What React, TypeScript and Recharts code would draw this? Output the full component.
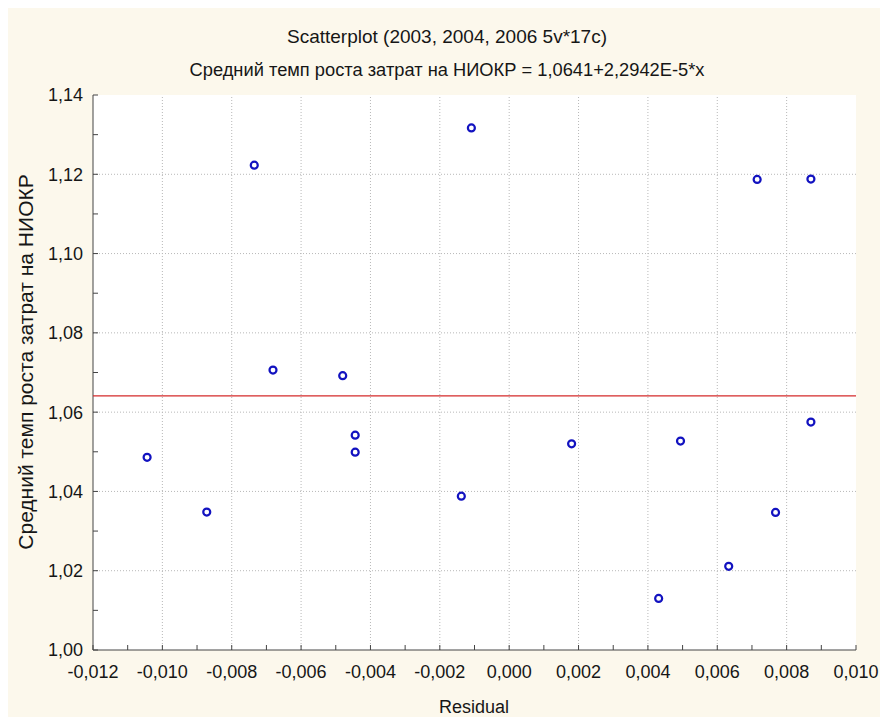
import React from 'react';
import { ScatterChart, Scatter, XAxis, YAxis, CartesianGrid, ReferenceLine } from 'recharts';

// values
const residual = [
  -0.01044, -0.00872, -0.00735, -0.00681, -0.0048, -0.00444, -0.00444, -0.00138, -0.00109,
  0.0018, 0.00431, 0.00494, 0.00633, 0.00715, 0.00768, 0.0087, 0.0087,
];
const growth = [
  1.0486, 1.0348, 1.1223, 1.0706, 1.0692, 1.0542, 1.0499, 1.0388, 1.1317,
  1.052, 1.013, 1.0527, 1.0211, 1.1187, 1.0347, 1.1188, 1.0575,
];

const xTicks = [-0.012, -0.01, -0.008, -0.006, -0.004, -0.002, 0, 0.002, 0.004, 0.006, 0.008, 0.01];
const yTicks = [1.0, 1.02, 1.04, 1.06, 1.08, 1.1, 1.12, 1.14];

const fitIntercept = 1.0641;
const fitSlope = 2.2942e-5;

const title = 'Scatterplot (2003, 2004, 2006 5v*17c)';
const subtitle = 'Средний темп роста затрат на НИОКР = 1,0641+2,2942E-5*x';
const xLabel = 'Residual';
const yLabel = 'Средний темп роста затрат на НИОКР';

const withMinor = (major: number[]) =>
  major.flatMap((v, i) => (i < major.length - 1 ? [v, Number(((v + major[i + 1]) / 2).toFixed(5))] : [v]));

const isIn = (list: number[], v: number) => list.some(m => Math.abs(m - v) < 1e-9);

const xAll = withMinor(xTicks);
const yAll = withMinor(yTicks);
const xDomain: [number, number] = [xTicks[0], xTicks[xTicks.length - 1]];
const yDomain: [number, number] = [yTicks[0], yTicks[yTicks.length - 1]];

const fmtX = (v: number) => (isIn(xTicks, v) ? v.toFixed(3).replace('.', ',') : '');
const fmtY = (v: number) => (isIn(yTicks, v) ? v.toFixed(2).replace('.', ',') : '');
const blank = () => '';

const points = residual.map((x, i) => ({ x, y: growth[i] }));
const fitLine = xDomain.map(x => ({ x, y: fitIntercept + fitSlope * x }));

const FONT = '"Liberation Sans", Arial, sans-serif';
const AXIS = '#444';
const TEXT = '#161616';

const Ring = (props: any) => (
  <circle cx={props.cx} cy={props.cy} r={3.5} fill="#fff" stroke="#1212c0" strokeWidth={2.2} />
);

const App: React.FC = () => {
  return (
    <div
      style={{
        position: 'absolute',
        left: 8,
        top: 8,
        width: 872,
        height: 709,
        background: '#fcf8ec',
        fontFamily: FONT,
        color: TEXT,
      }}
    >
      <div style={{ position: 'absolute', left: 439, top: 19, transform: 'translateX(-50%)', fontSize: 19, lineHeight: 1, whiteSpace: 'nowrap' }}>
        {title}
      </div>
      <div style={{ position: 'absolute', left: 439, top: 53, transform: 'translateX(-50%)', fontSize: 18.3, lineHeight: 1, whiteSpace: 'nowrap' }}>
        {subtitle}
      </div>
      <div style={{ position: 'absolute', left: 466, top: 690, transform: 'translateX(-50%)', fontSize: 18, lineHeight: 1, whiteSpace: 'nowrap' }}>
        {xLabel}
      </div>
      <div
        style={{
          position: 'absolute',
          left: 17,
          top: 354,
          transform: 'translate(-50%, -50%) rotate(-90deg)',
          fontSize: 21,
          lineHeight: 1,
          whiteSpace: 'nowrap',
        }}
      >
        {yLabel}
      </div>

      <ScatterChart width={872} height={709} margin={{ top: 87, right: 24, bottom: 0, left: 0 }} style={{ position: 'absolute', left: 0, top: 0 }}>
        <CartesianGrid xAxisId="main" yAxisId="main" horizontal={false} vertical={false} fill="#ffffff" fillOpacity={1} />
        {xTicks.slice(1, -1).map(v => (
          <ReferenceLine key={`gx${v}`} x={v} xAxisId="main" yAxisId="main" stroke="#b8b8b8" strokeDasharray="1 2" />
        ))}
        {yTicks.slice(1, -1).map(v => (
          <ReferenceLine key={`gy${v}`} y={v} xAxisId="main" yAxisId="main" stroke="#b8b8b8" strokeDasharray="1 2" />
        ))}

        <XAxis
          xAxisId="main"
          type="number"
          dataKey="x"
          domain={xDomain}
          allowDataOverflow
          ticks={xAll}
          interval={0}
          tickFormatter={fmtX}
          height={67}
          tickSize={-5}
          tickMargin={20}
          stroke={AXIS}
          tick={{ fill: TEXT, fontSize: 18, fontFamily: FONT }}
        />
        <XAxis
          xAxisId="top"
          orientation="top"
          type="number"
          domain={xDomain}
          allowDataOverflow
          ticks={xAll}
          interval={0}
          tickFormatter={blank}
          height={0}
          tickSize={-5}
          stroke={AXIS}
        />
        <YAxis
          yAxisId="main"
          type="number"
          dataKey="y"
          domain={yDomain}
          allowDataOverflow
          ticks={yAll}
          interval={0}
          tickFormatter={fmtY}
          width={85}
          tickSize={-5}
          tickMargin={15}
          stroke={AXIS}
          tick={{ fill: TEXT, fontSize: 18, fontFamily: FONT }}
        />
        <YAxis
          yAxisId="right"
          orientation="right"
          type="number"
          domain={yDomain}
          allowDataOverflow
          ticks={yAll}
          interval={0}
          tickFormatter={blank}
          width={0}
          tickSize={-5}
          stroke={AXIS}
        />

        <Scatter
          data={fitLine}
          xAxisId="main"
          yAxisId="main"
          line={{ stroke: '#d42a2a', strokeWidth: 1.2 }}
          shape={() => <g />}
          isAnimationActive={false}
        />
        <Scatter data={points} xAxisId="main" yAxisId="main" shape={Ring} isAnimationActive={false} />
      </ScatterChart>
    </div>
  );
};

export default App;
